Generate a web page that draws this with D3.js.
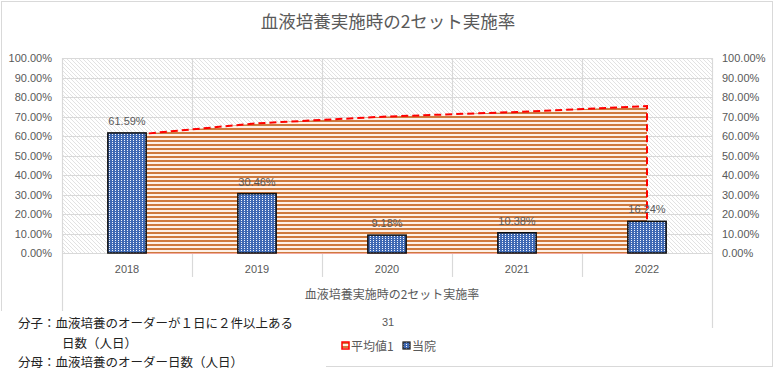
<!DOCTYPE html>
<html>
<head>
<meta charset="utf-8">
<script src="https://cdn.jsdelivr.net/npm/d3@7"></script>
<style>
  body { margin: 0; background: #fff; }
  #chart svg { display: block; }
</style>
</head>
<body>
<div id="chart"></div>
<script>
"use strict";

// data
var years = ["2018", "2019", "2020", "2021", "2022"];
var hospital = [0.6159, 0.3046, 0.0918, 0.1038, 0.1624];   // 当院
var average1 = [0.603, 0.665, 0.700, 0.723, 0.753];         // 平均値1
var yTicks = [0, 0.1, 0.2, 0.3, 0.4, 0.5, 0.6, 0.7, 0.8, 0.9, 1.0];
var noteLines = ["分子：血液培養のオーダーが１日に２件以上ある", "日数（人日）", "分母：血液培養のオーダー日数（人日）"];

var consts = {
    width: 775,
    height: 385,
    gray: "#595959",
    grid: "#d9d9d9",
    jp: "'Noto Sans CJK JP', sans-serif",
    num: "'Liberation Sans', Arial, sans-serif"
};

var svg = d3.select("#chart").append("svg")
    .attr("width", consts.width)
    .attr("height", consts.height);

////////////////////////////////////////////////
// fill patterns
var defs = svg.append("defs");

var hatch = defs.append("pattern")
    .attr("id", "hatch")
    .attr("patternUnits", "userSpaceOnUse")
    .attr("width", 4).attr("height", 4);
hatch.append("rect").attr("width", 4).attr("height", 4).attr("fill", "#fff");
hatch.append("path").attr("d", "M-1,-1L5,5M-1,3L1,5M3,-1L5,1")
    .attr("stroke", "#dadada").attr("stroke-width", 0.8);

var dots = defs.append("pattern")
    .attr("id", "dots")
    .attr("patternUnits", "userSpaceOnUse")
    .attr("width", 3).attr("height", 2);
dots.append("rect").attr("width", 3).attr("height", 2).attr("fill", "#3f69b4");
dots.append("rect").attr("x", 1).attr("y", 0).attr("width", 1).attr("height", 1).attr("fill", "#f2f5fc");

var stripes = defs.append("pattern")
    .attr("id", "stripes")
    .attr("patternUnits", "userSpaceOnUse")
    .attr("width", 4).attr("height", 4);
stripes.append("rect").attr("width", 4).attr("height", 4).attr("fill", "#fdf1e8");
stripes.append("rect").attr("width", 4).attr("height", 2).attr("fill", "#cf7a3e");

////////////////////////////////////////////////
// outer frame
svg.append("rect")
    .attr("x", 1.5).attr("y", 1.5)
    .attr("width", 771).attr("height", 365)
    .attr("fill", "#fff")
    .attr("stroke", consts.grid);

svg.append("text")
    .attr("x", 388).attr("y", 28)
    .attr("text-anchor", "middle")
    .attr("font-family", consts.jp)
    .attr("font-size", 17.5)
    .attr("fill", consts.gray)
    .text("血液培養実施時の2セット実施率");

////////////////////////////////////////////////
// scales
var x = d3.scaleBand().domain(years).range([62, 712]).paddingInner(0).paddingOuter(0);
var y = d3.scaleLinear().domain([0, 1]).range([253, 58]);
var barW = x.bandwidth() * 0.295;
var cx = function (d) { return x(d) + x.bandwidth() / 2; };

// plot background
svg.append("rect")
    .attr("x", 62).attr("y", 58)
    .attr("width", 650).attr("height", 195)
    .attr("fill", "url(#hatch)");

// horizontal grid
svg.append("g").selectAll("line")
    .data(yTicks)
    .join("line")
    .attr("x1", 62).attr("x2", 712)
    .attr("y1", function (d) { return Math.round(y(d)) + 0.5; })
    .attr("y2", function (d) { return Math.round(y(d)) + 0.5; })
    .attr("stroke", consts.grid).attr("stroke-width", 1.2);

// category dividers (run into the label row)
svg.append("g").selectAll("line")
    .data(years.slice(1))
    .join("line")
    .attr("x1", function (d) { return x(d) + 0.5; })
    .attr("x2", function (d) { return x(d) + 0.5; })
    .attr("y1", 58).attr("y2", 277)
    .attr("stroke", consts.grid).attr("stroke-width", 1.2);

svg.append("line")
    .attr("x1", 62.5).attr("x2", 62.5).attr("y1", 58).attr("y2", 312)
    .attr("stroke", consts.grid).attr("stroke-width", 1.2);
svg.append("line")
    .attr("x1", 712.5).attr("x2", 712.5).attr("y1", 58).attr("y2", 328)
    .attr("stroke", consts.grid).attr("stroke-width", 1.2);

// y axes, both sides
var axisL = d3.axisLeft(y).tickValues(yTicks).tickSize(0).tickPadding(10)
    .tickFormat(d3.format(".2%"));
var axisR = d3.axisRight(y).tickValues(yTicks).tickSize(0).tickPadding(10)
    .tickFormat(d3.format(".2%"));

[[axisL, 62], [axisR, 712]].forEach(function (a) {
    var g = svg.append("g").attr("transform", "translate(" + a[1] + ",0)").call(a[0]);
    g.select(".domain").remove();
    g.selectAll("text")
        .attr("font-family", consts.num)
        .attr("font-size", 11)
        .attr("fill", consts.gray);
});

// x axis labels
var axisB = d3.axisBottom(x).tickSize(0).tickPadding(12);
var gx = svg.append("g").attr("transform", "translate(0,253)").call(axisB);
gx.select(".domain").remove();
gx.selectAll("text")
    .attr("font-family", consts.num)
    .attr("font-size", 11)
    .attr("fill", consts.gray);

////////////////////////////////////////////////
// 平均値1 area
var avgData = years.map(function (d, i) { return { year: d, v: average1[i] }; });

var area = d3.area()
    .x(function (d) { return cx(d.year); })
    .y0(y(0))
    .y1(function (d) { return y(d.v); });

svg.append("path")
    .datum(avgData)
    .attr("d", area)
    .attr("fill", "url(#stripes)");

// dashed outline: top edge plus the right-hand drop
var last = avgData[avgData.length - 1];
var outline = d3.line()
    .x(function (d) { return cx(d.year); })
    .y(function (d) { return y(d.v); });

svg.append("path")
    .attr("d", outline(avgData) + "L" + cx(last.year) + "," + y(0))
    .attr("fill", "none")
    .attr("stroke", "#ff0000")
    .attr("stroke-width", 2)
    .attr("stroke-dasharray", "7,4");

// x axis line drawn over the area bottom
svg.append("line")
    .attr("x1", cx(years[0])).attr("x2", cx(last.year)).attr("y1", 253.5).attr("y2", 253.5)
    .attr("stroke", "#f2a8a0").attr("stroke-width", 1);

////////////////////////////////////////////////
// 当院 bars
var barData = years.map(function (d, i) { return { year: d, v: hospital[i] }; });

svg.append("g").selectAll("rect")
    .data(barData)
    .join("rect")
    .attr("x", function (d) { return cx(d.year) - barW / 2; })
    .attr("y", function (d) { return y(d.v); })
    .attr("width", barW)
    .attr("height", function (d) { return y(0) - y(d.v); })
    .attr("fill", "url(#dots)")
    .attr("stroke", "#111")
    .attr("stroke-width", 1.5);

svg.append("g").selectAll("text")
    .data(barData)
    .join("text")
    .attr("x", function (d) { return cx(d.year); })
    .attr("y", function (d) { return y(d.v) - 8; })
    .attr("text-anchor", "middle")
    .attr("font-family", consts.num)
    .attr("font-size", 11)
    .attr("fill", consts.gray)
    .text(function (d) { return d3.format(".2%")(d.v); });

////////////////////////////////////////////////
// axis title, stray value, legend
svg.append("text")
    .attr("x", 392).attr("y", 299)
    .attr("text-anchor", "middle")
    .attr("font-family", consts.jp)
    .attr("font-size", 12)
    .attr("fill", consts.gray)
    .text("血液培養実施時の2セット実施率");

svg.append("text")
    .attr("x", 388).attr("y", 326)
    .attr("text-anchor", "middle")
    .attr("font-family", consts.num)
    .attr("font-size", 11)
    .attr("fill", consts.gray)
    .text("31");

var legend = svg.append("g").attr("transform", "translate(342,346)");
legend.append("rect")
    .attr("x", 0).attr("y", -4).attr("width", 7).attr("height", 7)
    .attr("fill", "url(#stripes)")
    .attr("stroke", "#ff0000").attr("stroke-width", 1.5);
legend.append("text")
    .attr("x", 9).attr("y", 4.5)
    .attr("font-family", consts.jp).attr("font-size", 12)
    .attr("fill", consts.gray)
    .text("平均値1");
legend.append("rect")
    .attr("x", 61).attr("y", -4).attr("width", 7).attr("height", 7)
    .attr("fill", "url(#dots)")
    .attr("stroke", "#111").attr("stroke-width", 1.2);
legend.append("text")
    .attr("x", 70).attr("y", 4.5)
    .attr("font-family", consts.jp).attr("font-size", 12)
    .attr("fill", consts.gray)
    .text("当院");

////////////////////////////////////////////////
// white note box over the lower-left corner
svg.append("rect")
    .attr("x", 0).attr("y", 311)
    .attr("width", 326).attr("height", 74)
    .attr("fill", "#fff");

svg.append("g").selectAll("text")
    .data(noteLines)
    .join("text")
    .attr("x", function (d, i) { return i === 1 ? 62 : 18; })
    .attr("y", function (d, i) { return 328 + i * 19.5; })
    .attr("font-family", consts.jp)
    .attr("font-size", 12.5)
    .attr("fill", "#222")
    .text(function (d) { return d; });
</script>
</body>
</html>
